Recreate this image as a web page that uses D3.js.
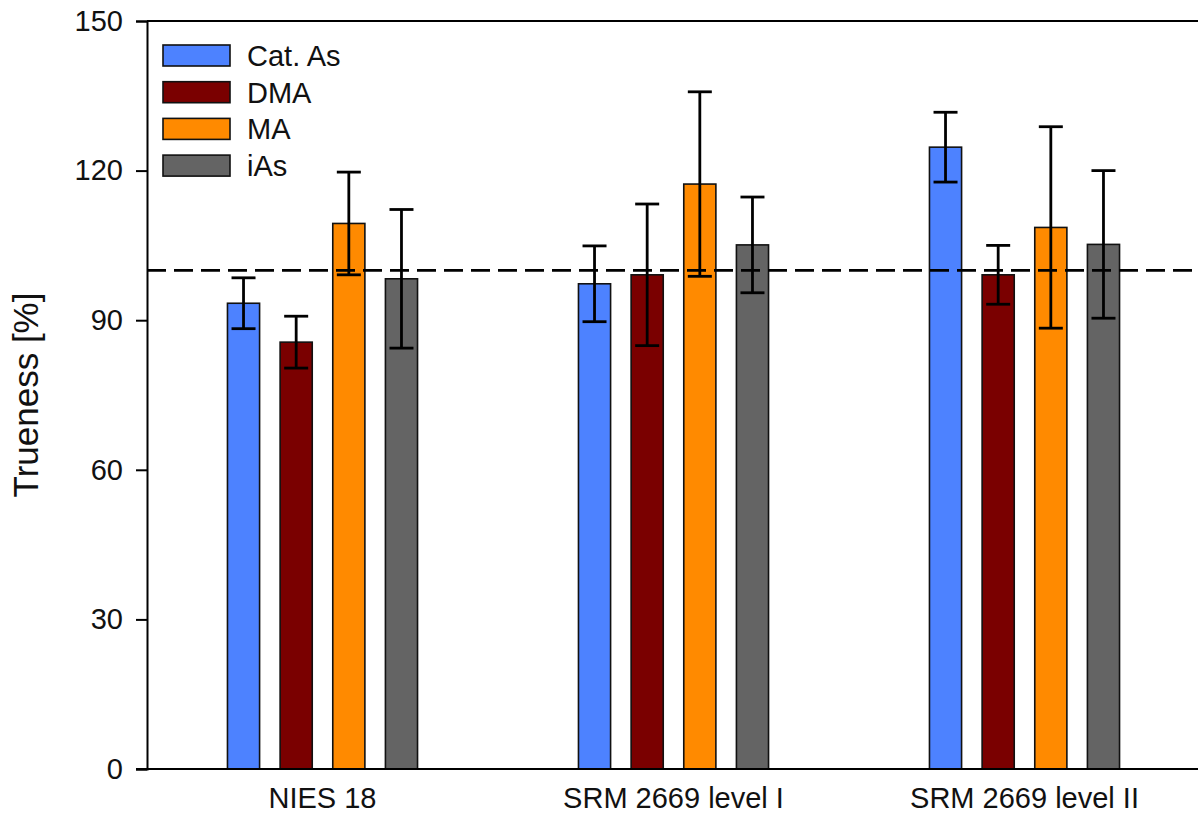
<!DOCTYPE html>
<html>
<head>
<meta charset="utf-8">
<script src="https://cdn.jsdelivr.net/npm/d3@7"></script>
<style>
  html, body { margin: 0; padding: 0; background: #fff; }
  svg { display: block; font-family: "Liberation Sans", Arial, sans-serif; }
</style>
</head>
<body>
<svg id="chart" width="1198" height="819"></svg>
<script>
// Reference materials and arsenic species
const categories = ["NIES 18", "SRM 2669 level I", "SRM 2669 level II"];
const species = ["Cat. As", "DMA", "MA", "iAs"];
const colors = ["#4d82ff", "#7a0000", "#ff8a00", "#646464"];

// Trueness (%) per species, one value per reference material
const catAsMean = [93.4, 97.3, 124.7];
const catAsErr  = [5.1, 7.6, 7.0];
const dmaMean   = [85.6, 99.1, 99.1];
const dmaErr    = [5.2, 14.2, 5.9];
const maMean    = [109.4, 117.3, 108.6];
const maErr     = [10.3, 18.5, 20.2];
const iasMean   = [98.3, 105.1, 105.2];
const iasErr    = [13.9, 9.6, 14.8];

const yTicks = [0, 30, 60, 90, 120, 150];
const target = 100;

const means = [catAsMean, dmaMean, maMean, iasMean];
const errs = [catAsErr, dmaErr, maErr, iasErr];

const rows = [];
categories.forEach((c, ci) => {
  species.forEach((s, si) => {
    rows.push({ cat: c, sp: s, color: colors[si], v: means[si][ci], e: errs[si][ci] });
  });
});

const svg = d3.select("#chart");
const m = { left: 147, right: 1200, top: 21, bottom: 769 };

const x = d3.scaleBand().domain(categories).range([m.left, m.right]).padding(0);
const groupW = x.bandwidth() * 0.6;
const xs = d3.scaleBand().domain(species).range([0, groupW])
  .paddingInner(0.39).paddingOuter(0.195);
const y = d3.scaleLinear().domain([0, 150]).range([m.bottom, m.top]);

const offset = (x.bandwidth() - groupW) / 2;
const bx = d => x(d.cat) + offset + xs(d.sp);

// Bars
svg.append("g").selectAll("rect").data(rows).join("rect")
  .attr("x", bx)
  .attr("y", d => y(d.v))
  .attr("width", xs.bandwidth())
  .attr("height", d => y(0) - y(d.v))
  .attr("fill", d => d.color)
  .attr("stroke", "#111")
  .attr("stroke-width", 1.6);

// Reference line at 100 %
svg.append("line")
  .attr("x1", m.left).attr("x2", 1198)
  .attr("y1", y(target)).attr("y2", y(target))
  .attr("stroke", "#000").attr("stroke-width", 2.6)
  .attr("stroke-dasharray", "19,8");

// Error bars
const capW = 24;
const eb = svg.append("g").attr("stroke", "#000").attr("stroke-width", 2.8);
rows.forEach(d => {
  const cx = bx(d) + xs.bandwidth() / 2;
  eb.append("line").attr("x1", cx).attr("x2", cx)
    .attr("y1", y(d.v - d.e)).attr("y2", y(d.v + d.e));
  [d.v - d.e, d.v + d.e].forEach(val => {
    eb.append("line").attr("x1", cx - capW / 2).attr("x2", cx + capW / 2)
      .attr("y1", y(val)).attr("y2", y(val));
  });
});

// Y axis
const yAxis = d3.axisLeft(y).tickValues(yTicks).tickSize(11).tickPadding(13);
const ya = svg.append("g").attr("transform", `translate(${m.left},0)`).call(yAxis);
ya.select(".domain").attr("stroke", "#000").attr("stroke-width", 2);
ya.selectAll(".tick line").attr("stroke", "#000").attr("stroke-width", 2);
ya.selectAll(".tick text").attr("font-size", 29).attr("fill", "#111")
  .attr("font-family", "'Liberation Sans', Arial, sans-serif");

// X axis (category labels, no ticks)
const xAxis = d3.axisBottom(x).tickSize(0).tickPadding(18);
const xa = svg.append("g").attr("transform", `translate(0,${m.bottom})`).call(xAxis);
xa.select(".domain").remove();
xa.selectAll(".tick text").attr("font-size", 29).attr("fill", "#111")
  .attr("font-family", "'Liberation Sans', Arial, sans-serif");
svg.append("line").attr("x1", m.left - 11).attr("x2", 1198)
  .attr("y1", m.bottom).attr("y2", m.bottom)
  .attr("stroke", "#000").attr("stroke-width", 2);

// Top frame
svg.append("line").attr("x1", m.left).attr("x2", 1198)
  .attr("y1", m.top).attr("y2", m.top)
  .attr("stroke", "#000").attr("stroke-width", 2);

// Y axis title
svg.append("text")
  .attr("transform", `translate(38,${(m.top + m.bottom) / 2}) rotate(-90)`)
  .attr("text-anchor", "middle")
  .attr("font-size", 35).attr("fill", "#111")
  .text("Trueness [%]");

// Legend
const lg = svg.append("g").attr("transform", "translate(163,45)");
species.forEach((s, i) => {
  const row = lg.append("g").attr("transform", `translate(0,${i * 36.7})`);
  row.append("rect").attr("width", 67).attr("height", 21)
    .attr("fill", colors[i]).attr("stroke", "#111").attr("stroke-width", 1.6);
  row.append("text").attr("x", 84).attr("y", 21)
    .attr("font-size", 29).attr("fill", "#111").text(s);
});
</script>
</body>
</html>
